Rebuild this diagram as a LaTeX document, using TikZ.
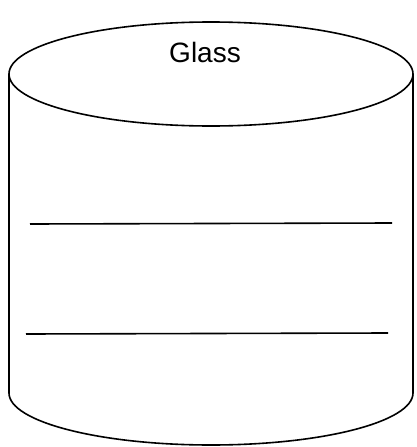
\documentclass[tikz,border=0pt]{standalone}
\usepackage{fontspec}
\setmainfont{Liberation Sans}
\begin{document}
\begin{tikzpicture}[x=1pt,y=-1pt,line width=1.6pt,
  outline/.style={draw=black},
  level/.style={draw=black,line width=1.6pt}]
\useasboundingbox (0,0) rectangle (416,447);
% top ellipse
\draw[outline] (211,74) ellipse [x radius=202, y radius=52];
% body sides and bottom
\draw[outline] (9,74) -- (9,393) arc[start angle=180, end angle=0, x radius=202, y radius=52] -- (413,74);
\node (label) at (205,52) {\fontsize{28}{34}\selectfont Glass};
\coordinate (l1a) at (30,224);
\coordinate (l1b) at (392,223);
\coordinate (l2a) at (26,334);
\coordinate (l2b) at (388,333);
\draw[level] (l1a) -- (l1b);
\draw[level] (l2a) -- (l2b);
\end{tikzpicture}
\end{document}
